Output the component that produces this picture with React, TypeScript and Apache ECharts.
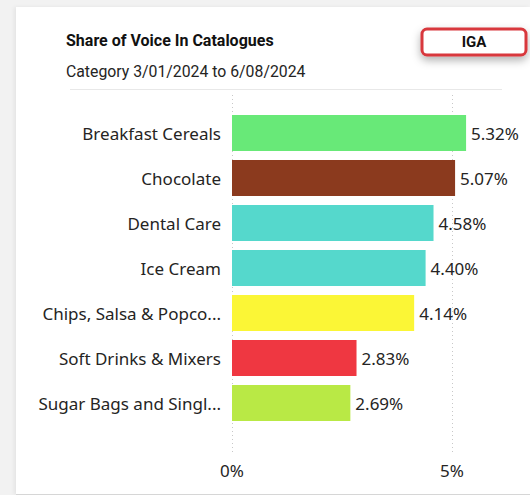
import React, { useEffect, useRef } from "react";
import * as echarts from "echarts";

// Share of voice per category (percent), top to bottom
const categories = [
  "Breakfast Cereals",
  "Chocolate",
  "Dental Care",
  "Ice Cream",
  "Chips, Salsa & Popco...",
  "Soft Drinks & Mixers",
  "Sugar Bags and Singl...",
];
const shareValues = [5.32, 5.07, 4.58, 4.4, 4.14, 2.83, 2.69];
const barColors = ["#68e978", "#8b3a1e", "#55d8cc", "#fbf636", "#ef3741", "#b9e945"];
const colorIndex = [0, 1, 2, 2, 3, 4, 5];
const tickValues = [0, 5];

const titleText = "Share of Voice In Catalogues";
const subtitleText = "Category 3/01/2024 to 6/08/2024";
const retailerText = "IGA";

const textColor = "#252423";
const labelFont = "'Noto Sans', 'Open Sans', sans-serif";
const headFont = "Roboto, 'Noto Sans', sans-serif";

export default function App() {
  const ref = useRef<HTMLDivElement>(null);

  useEffect(() => {
    if (!ref.current) return;
    const chart = echarts.init(ref.current, undefined, { renderer: "svg" });
    chart.setOption({
      animation: false,
      title: [
        {
          text: titleText,
          left: 66,
          top: 32,
          padding: 0,
          textStyle: { fontFamily: headFont, fontSize: 16, fontWeight: "bold", color: "#111" },
        },
        {
          text: subtitleText,
          left: 66,
          top: 63,
          padding: 0,
          textStyle: { fontFamily: headFont, fontSize: 15.8, fontWeight: "normal", color: textColor },
        },
      ],
      graphic: [
        {
          type: "line",
          shape: { x1: 70, y1: 89.5, x2: 502, y2: 89.5 },
          style: { stroke: "#e8e8e8", lineWidth: 1 },
        },
        {
          type: "group",
          children: [
            {
              type: "rect",
              shape: { x: 422, y: 29, width: 104, height: 26, r: 5 },
              style: {
                fill: "#fff",
                stroke: "#d8373d",
                lineWidth: 3,
                shadowBlur: 8,
                shadowOffsetY: 4,
                shadowColor: "rgba(0,0,0,0.3)",
              },
            },
            {
              type: "text",
              x: 474,
              y: 42,
              style: {
                text: retailerText,
                fontFamily: headFont,
                fontSize: 15,
                fontWeight: "bold",
                fill: "#111",
                align: "center",
                verticalAlign: "middle",
              },
            },
          ],
        },
      ],
      grid: [
        { left: 232, right: 34, top: 110.5, height: 315 },
        { left: 232, right: 78, top: 95, height: 358 },
      ],
      xAxis: [
        { gridIndex: 0, type: "value", min: 0, max: 6, show: false },
        {
          gridIndex: 1,
          type: "value",
          min: tickValues[0],
          max: tickValues[tickValues.length - 1],
          interval: tickValues[1] - tickValues[0],
          axisLine: { show: false },
          axisTick: { show: false },
          axisLabel: {
            formatter: (v: number) => `${v}%`,
            fontFamily: labelFont,
            fontSize: 17,
            color: textColor,
            margin: 9,
          },
          splitLine: { show: true, lineStyle: { color: "#c8c8c8", type: [1, 3], width: 1 } },
        },
      ],
      yAxis: [
        {
          gridIndex: 0,
          type: "category",
          data: categories,
          inverse: true,
          axisLine: { show: false },
          axisTick: { show: false },
          axisLabel: {
            fontFamily: labelFont,
            fontSize: 17,
            color: textColor,
            margin: 11,
          },
        },
        { gridIndex: 1, type: "value", min: 0, max: 1, show: false },
      ],
      series: [
        {
          type: "bar",
          xAxisIndex: 0,
          yAxisIndex: 0,
          barWidth: 36,
          data: shareValues.map((v, i) => ({
            value: v,
            itemStyle: { color: barColors[colorIndex[i]] },
          })),
          label: {
            show: true,
            position: "right",
            distance: 5,
            formatter: (p: any) => `${Number(p.value).toFixed(2)}%`,
            fontFamily: labelFont,
            fontSize: 17,
            color: textColor,
          },
        },
        { type: "line", xAxisIndex: 1, yAxisIndex: 1, data: [] },
      ],
    });
    return () => chart.dispose();
  }, []);

  return (
    <div style={{ position: "fixed", inset: 0, width: 530, height: 495, background: "#f2f2f2", overflow: "hidden" }}>
      <div
        style={{
          position: "absolute",
          left: 16,
          top: 7,
          width: 514,
          height: 487,
          background: "#fff",
          borderBottom: "1px solid #d6d6d6",
          boxShadow: "-2px 0 4px rgba(0,0,0,0.06)",
        }}
      />
      <div ref={ref} style={{ position: "absolute", left: 0, top: 0, width: 530, height: 495 }} />
    </div>
  );
}
